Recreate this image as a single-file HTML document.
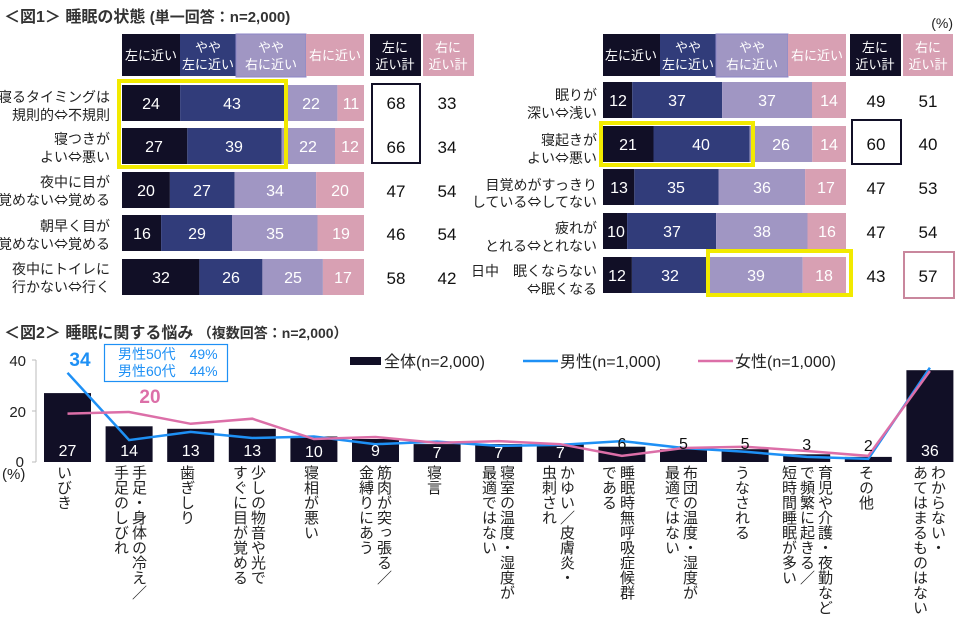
<!DOCTYPE html>
<html><head><meta charset="utf-8"><style>
body{margin:0;background:#fff;}
#w{position:relative;width:960px;height:623px;overflow:hidden;font-family:"Liberation Sans","Noto Sans CJK JP",sans-serif;}
svg{position:absolute;left:0;top:0;}
.v{position:absolute;top:465px;writing-mode:vertical-rl;font-size:15px;line-height:18px;color:#222;transform:translateX(-50%);font-family:"Liberation Sans","Noto Sans CJK JP",sans-serif;white-space:nowrap;}
.a{font-family:"Noto Sans CJK JP",sans-serif;}
</style></head><body><div id="w">
<svg width="960" height="623" viewBox="0 0 960 623" font-family="Liberation Sans, Noto Sans CJK JP, sans-serif">
<text x="4" y="22" font-size="16" fill="#333" font-weight="bold">＜図1＞ 睡眠の状態 <tspan font-size="15">(単一回答：n=2,000)</tspan></text>
<text x="953" y="28" font-size="14" fill="#222" text-anchor="end">(%)</text>
<g font-size="13" fill="#fff" text-anchor="middle">
<rect x="122" y="34" width="58" height="42" fill="#110f26"/><text x="151" y="60">左に近い</text>
<rect x="180" y="34" width="56" height="42" fill="#313c7a"/><text x="208" y="52">やや</text><text x="208" y="69">左に近い</text>
<rect x="236" y="34" width="70" height="43" fill="#a096c3" stroke="#8d86c7"/><text x="271" y="52">やや</text><text x="271" y="69">右に近い</text>
<rect x="306" y="34" width="58" height="42" fill="#d8a0b3"/><text x="335" y="60">右に近い</text>
<rect x="370" y="34" width="51" height="42" fill="#110f26"/><text x="395" y="52">左に</text><text x="395" y="69">近い計</text>
<rect x="423" y="34" width="51" height="42" fill="#d8a0b3"/><text x="448" y="52">右に</text><text x="448" y="69">近い計</text>
<rect x="603" y="34" width="57" height="42" fill="#110f26"/><text x="631" y="60">左に近い</text>
<rect x="660" y="34" width="56" height="42" fill="#313c7a"/><text x="688" y="52">やや</text><text x="688" y="69">左に近い</text>
<rect x="716" y="34" width="72" height="43" fill="#a096c3" stroke="#8d86c7"/><text x="752" y="52">やや</text><text x="752" y="69">右に近い</text>
<rect x="788" y="34" width="58" height="42" fill="#d8a0b3"/><text x="817" y="60">右に近い</text>
<rect x="850" y="34" width="51" height="42" fill="#110f26"/><text x="875" y="52">左に</text><text x="875" y="69">近い計</text>
<rect x="903" y="34" width="50" height="42" fill="#d8a0b3"/><text x="928" y="52">右に</text><text x="928" y="69">近い計</text>
</g>
<g font-size="16" fill="#fff" text-anchor="middle">
<rect x="122" y="85" width="58.1" height="36" fill="#110f26"/><rect x="180.1" y="85" width="104.1" height="36" fill="#313c7a"/><rect x="284.2" y="85" width="53.2" height="36" fill="#a096c3"/><rect x="337.4" y="85" width="26.6" height="36" fill="#d8a0b3"/>
<text x="151" y="109">24</text><text x="232" y="109">43</text><text x="311" y="109">22</text><text x="351" y="109">11</text>
<rect x="122" y="128" width="65.3" height="36" fill="#110f26"/><rect x="187.3" y="128" width="94.4" height="36" fill="#313c7a"/><rect x="281.7" y="128" width="53.3" height="36" fill="#a096c3"/><rect x="335" y="128" width="29" height="36" fill="#d8a0b3"/>
<text x="154" y="152">27</text><text x="234" y="152">39</text><text x="308" y="152">22</text><text x="350" y="152">12</text>
<rect x="122" y="172" width="47.9" height="36" fill="#110f26"/><rect x="169.9" y="172" width="64.7" height="36" fill="#313c7a"/><rect x="234.6" y="172" width="81.5" height="36" fill="#a096c3"/><rect x="316.1" y="172" width="47.9" height="36" fill="#d8a0b3"/>
<text x="146" y="196">20</text><text x="202" y="196">27</text><text x="275" y="196">34</text><text x="340" y="196">20</text>
<rect x="122" y="215" width="39.1" height="36" fill="#110f26"/><rect x="161.1" y="215" width="70.9" height="36" fill="#313c7a"/><rect x="232" y="215" width="85.5" height="36" fill="#a096c3"/><rect x="317.5" y="215" width="46.5" height="36" fill="#d8a0b3"/>
<text x="142" y="239">16</text><text x="197" y="239">29</text><text x="275" y="239">35</text><text x="341" y="239">19</text>
<rect x="122" y="259" width="77.4" height="36" fill="#110f26"/><rect x="199.4" y="259" width="63" height="36" fill="#313c7a"/><rect x="262.4" y="259" width="60.5" height="36" fill="#a096c3"/><rect x="322.9" y="259" width="41.1" height="36" fill="#d8a0b3"/>
<text x="161" y="283">32</text><text x="231" y="283">26</text><text x="293" y="283">25</text><text x="343" y="283">17</text>
<rect x="603" y="82" width="29.2" height="36" fill="#110f26"/><rect x="632.2" y="82" width="89.9" height="36" fill="#313c7a"/><rect x="722.1" y="82" width="89.9" height="36" fill="#a096c3"/><rect x="812" y="82" width="34" height="36" fill="#d8a0b3"/>
<text x="618" y="106">12</text><text x="677" y="106">37</text><text x="767" y="106">37</text><text x="829" y="106">14</text>
<rect x="603" y="126" width="50.5" height="36" fill="#110f26"/><rect x="653.5" y="126" width="96.2" height="36" fill="#313c7a"/><rect x="749.7" y="126" width="62.6" height="36" fill="#a096c3"/><rect x="812.3" y="126" width="33.7" height="36" fill="#d8a0b3"/>
<text x="628" y="150">21</text><text x="701" y="150">40</text><text x="781" y="150">26</text><text x="829" y="150">14</text>
<rect x="603" y="169" width="31.3" height="36" fill="#110f26"/><rect x="634.3" y="169" width="84.2" height="36" fill="#313c7a"/><rect x="718.5" y="169" width="86.6" height="36" fill="#a096c3"/><rect x="805.1" y="169" width="40.9" height="36" fill="#d8a0b3"/>
<text x="619" y="193">13</text><text x="676" y="193">35</text><text x="762" y="193">36</text><text x="826" y="193">17</text>
<rect x="603" y="213" width="24.1" height="36" fill="#110f26"/><rect x="627.1" y="213" width="89" height="36" fill="#313c7a"/><rect x="716.1" y="213" width="91.4" height="36" fill="#a096c3"/><rect x="807.5" y="213" width="38.5" height="36" fill="#d8a0b3"/>
<text x="616" y="237">10</text><text x="672" y="237">37</text><text x="762" y="237">38</text><text x="827" y="237">16</text>
<rect x="603" y="257" width="28.9" height="36" fill="#110f26"/><rect x="631.9" y="257" width="77" height="36" fill="#313c7a"/><rect x="708.9" y="257" width="93.8" height="36" fill="#a096c3"/><rect x="802.7" y="257" width="43.3" height="36" fill="#d8a0b3"/>
<text x="617" y="281">12</text><text x="670" y="281">32</text><text x="756" y="281">39</text><text x="824" y="281">18</text>
</g>
<rect x="119" y="81" width="167" height="86" fill="none" stroke="#f2ea00" stroke-width="4"/>
<rect x="601" y="123" width="152" height="42" fill="none" stroke="#f2ea00" stroke-width="4"/>
<rect x="708" y="251" width="143" height="44" fill="none" stroke="#f2ea00" stroke-width="4"/>
<rect x="372" y="84" width="48" height="79" fill="none" stroke="#110f26" stroke-width="2"/>
<rect x="852" y="120" width="49" height="44" fill="none" stroke="#110f26" stroke-width="2"/>
<rect x="904" y="252" width="50" height="46" fill="none" stroke="#c9879d" stroke-width="2"/>
<g font-size="17" fill="#111" text-anchor="middle">
<text x="396" y="109">68</text><text x="447" y="109">33</text>
<text x="396" y="153">66</text><text x="447" y="153">34</text>
<text x="396" y="197">47</text><text x="447" y="197">54</text>
<text x="396" y="240">46</text><text x="447" y="240">54</text>
<text x="396" y="284">58</text><text x="447" y="284">42</text>
<text x="876" y="107">49</text><text x="928" y="107">51</text>
<text x="876" y="150">60</text><text x="928" y="150">40</text>
<text x="876" y="194">47</text><text x="928" y="194">53</text>
<text x="876" y="238">47</text><text x="928" y="238">54</text>
<text x="876" y="282">43</text><text x="928" y="282">57</text>
</g>
<g font-size="14" fill="#222" text-anchor="end">
<text x="110" y="102">寝るタイミングは</text><text x="110" y="120">規則的<tspan class="a">⇔</tspan>不規則</text>
<text x="110" y="144">寝つきが</text><text x="110" y="162">よい<tspan class="a">⇔</tspan>悪い</text>
<text x="110" y="187">夜中に目が</text><text x="110" y="205">覚めない<tspan class="a">⇔</tspan>覚める</text>
<text x="110" y="231">朝早く目が</text><text x="110" y="249">覚めない<tspan class="a">⇔</tspan>覚める</text>
<text x="110" y="274">夜中にトイレに</text><text x="110" y="292">行かない<tspan class="a">⇔</tspan>行く</text>
<text x="597" y="100">眠りが</text><text x="597" y="118">深い<tspan class="a">⇔</tspan>浅い</text>
<text x="597" y="145">寝起きが</text><text x="597" y="163">よい<tspan class="a">⇔</tspan>悪い</text>
<text x="597" y="190">目覚めがすっきり</text><text x="597" y="207">している<tspan class="a">⇔</tspan>してない</text>
<text x="597" y="233">疲れが</text><text x="597" y="251">とれる<tspan class="a">⇔</tspan>とれない</text>
<text x="597" y="276">日中　眠くならない</text><text x="597" y="294"><tspan class="a">⇔</tspan>眠くなる</text>
</g>
<text x="4" y="338" font-size="16" fill="#333" font-weight="bold">＜図2＞ 睡眠に関する悩み <tspan font-size="14">（複数回答：n=2,000）</tspan></text>
<g stroke="#bbb" stroke-width="1"><line x1="36" y1="360" x2="36" y2="462"/><line x1="32" y1="360" x2="36" y2="360"/><line x1="32" y1="411" x2="36" y2="411"/><line x1="32" y1="462" x2="36" y2="462"/></g>
<g font-size="15" fill="#222" text-anchor="end"><text x="26" y="366">40</text><text x="26" y="417">20</text><text x="24" y="467">0</text></g>
<text x="2" y="479" font-size="15" fill="#222">(%)</text>
<g fill="#110f26">
<rect x="44" y="393.1" width="47" height="68.9"/>
<rect x="105.6" y="426.3" width="47" height="35.7"/>
<rect x="167.2" y="428.8" width="47" height="33.2"/>
<rect x="228.8" y="428.8" width="47" height="33.2"/>
<rect x="290.4" y="436.5" width="47" height="25.5"/>
<rect x="352" y="439" width="47" height="23"/>
<rect x="413.6" y="444.1" width="47" height="17.9"/>
<rect x="475.2" y="444.1" width="47" height="17.9"/>
<rect x="536.8" y="444.1" width="47" height="17.9"/>
<rect x="598.4" y="446.7" width="47" height="15.3"/>
<rect x="660" y="449.2" width="47" height="12.8"/>
<rect x="721.6" y="449.2" width="47" height="12.8"/>
<rect x="783.2" y="454.3" width="47" height="7.7"/>
<rect x="844.8" y="456.9" width="47" height="5.1"/>
<rect x="906.4" y="370.2" width="47" height="91.8"/>
</g>
<polyline fill="none" stroke="#1e90f5" stroke-width="2.5" points="67.5,372.8 129.1,440.1 190.7,431.9 252.3,438 313.9,436.5 375.5,444.2 437.1,441.6 498.7,445.9 560.3,444.9 621.9,441.1 683.5,448 745.1,451.8 806.7,456.9 868.3,458.9 929.9,367.7"/>
<polyline fill="none" stroke="#dc6fa8" stroke-width="2.5" points="67.5,413.6 129.1,412 190.7,423.8 252.3,418.7 313.9,439 375.5,437 437.1,442.9 498.7,441.1 560.3,444.2 621.9,455.9 683.5,448 745.1,446.7 806.7,451 868.3,455.9 929.9,371"/>
<g font-size="16" fill="#fff" text-anchor="middle">
<text x="67.5" y="456">27</text><text x="129.1" y="456">14</text><text x="190.7" y="456">13</text><text x="252.3" y="456">13</text><text x="313.9" y="457">10</text><text x="375.5" y="456">9</text><text x="437.1" y="458">7</text><text x="498.7" y="458">7</text><text x="560.3" y="458">7</text><text x="929.9" y="456">36</text>
</g>
<g font-size="16" fill="#111" text-anchor="middle">
<text x="621.9" y="449">6</text><text x="683.5" y="449">5</text><text x="745.1" y="449">5</text><text x="806.7" y="450">3</text><text x="868.3" y="451">2</text>
</g>
<text x="80" y="366" font-size="19" font-weight="bold" fill="#1e90f5" text-anchor="middle">34</text>
<text x="150" y="403" font-size="19" font-weight="bold" fill="#dc6fa8" text-anchor="middle">20</text>
<rect x="104.5" y="344.5" width="123" height="37" fill="#fff" stroke="#1e90f5" stroke-width="1.2"/>
<g font-size="14" fill="#1e90f5"><text x="118" y="359">男性50代　49%</text><text x="118" y="376">男性60代　44%</text></g>
<rect x="350" y="357" width="31" height="8" fill="#110f26"/>
<text x="384" y="367" font-size="16" fill="#222">全体(n=2,000)</text>
<line x1="523" y1="361" x2="558" y2="361" stroke="#1e90f5" stroke-width="2.5"/>
<text x="560" y="367" font-size="16" fill="#222">男性(n=1,000)</text>
<line x1="698" y1="361" x2="733" y2="361" stroke="#dc6fa8" stroke-width="2.5"/>
<text x="735" y="367" font-size="16" fill="#222">女性(n=1,000)</text>
</svg>
<div class="v" style="left:63px">いびき</div>
<div class="v" style="left:129px">手足・身体の冷え／<br>手足のしびれ</div>
<div class="v" style="left:186px">歯ぎしり</div>
<div class="v" style="left:248px">少しの物音や光で<br>すぐに目が覚める</div>
<div class="v" style="left:310px">寝相が悪い</div>
<div class="v" style="left:374px">筋肉が突っ張る／<br>金縛りにあう</div>
<div class="v" style="left:433px">寝言</div>
<div class="v" style="left:497px">寝室の温度・湿度が<br>最適ではない</div>
<div class="v" style="left:557px">かゆい／皮膚炎・<br>虫刺され</div>
<div class="v" style="left:617px">睡眠時無呼吸症候群<br>である</div>
<div class="v" style="left:680px">布団の温度・湿度が<br>最適ではない</div>
<div class="v" style="left:741px">うなされる</div>
<div class="v" style="left:806px">育児や介護・夜勤など<br>で頻繁に起きる／<br>短時間睡眠が多い</div>
<div class="v" style="left:865px">その他</div>
<div class="v" style="left:928px">わからない・<br>あてはまるものはない</div>
</div></body></html>
